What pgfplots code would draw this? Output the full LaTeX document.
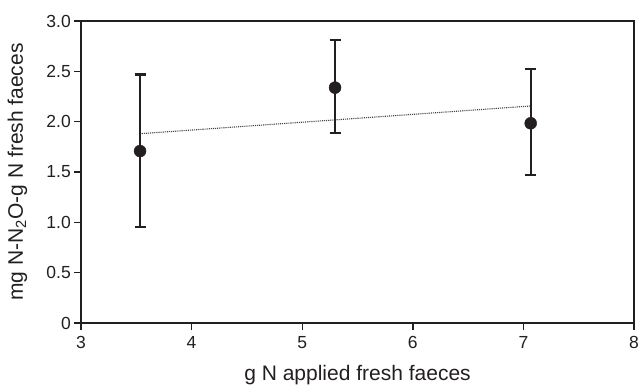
\documentclass[border=0pt]{standalone}
\usepackage{pgfplots}
\pgfplotsset{compat=1.18}
\usepackage{fontspec}
\setmainfont{Liberation Sans}
\definecolor{ink}{RGB}{35,31,32}
\begin{document}
\begin{tikzpicture}
\begin{axis}[
  scale only axis, width=553pt, height=302pt,
  at={(0pt,0pt)}, anchor=south west,
  xmin=3, xmax=8, ymin=0, ymax=3,
  xtick={3,4,5,6,7,8},
  ytick={0,0.5,1,1.5,2,2.5,3},
  yticklabels={0,0.5,1.0,1.5,2.0,2.5,3.0},
  axis line style={line width=1.8pt, ink},
  tick style={line width=1.4pt, ink},
  tick align=outside, tickpos=left, major tick length=7pt,
  /pgf/number format/assume math mode=true,
  tick label style={font=\fontsize{17.5}{20}\selectfont, text=ink, inner sep=2pt},
  xticklabel style={yshift=-4pt},
  yticklabel style={xshift=-1pt},
  xlabel={g N applied fresh faeces},
  ylabel={mg N-N\textsubscript{2}O-g N fresh faeces},
  xlabel style={font=\fontsize{21}{24}\selectfont, text=ink, at={([yshift=-57pt]axis description cs:0.5,0)}, anchor=base},
  ylabel style={font=\fontsize{21}{24}\selectfont, text=ink, at={([xshift=-58pt]axis description cs:0,0.5)}, anchor=base, rotate=0},
]
\addplot[densely dotted, line width=1.1pt, ink!85] coordinates {(3.53,1.88) (7.07,2.156)};
\addplot[only marks, mark=*, mark size=6pt, ink, mark options={fill=ink, draw=ink},
  error bars/.cd, y dir=both, y explicit,
  error bar style={line width=2.3pt, ink},
  error mark options={rotate=90, mark size=5.5pt, line width=2.3pt, ink}]
  coordinates {
   (3.534,1.708) += (0,0.760) -= (0,0.756)
   (5.297,2.338) += (0,0.475) -= (0,0.450)
   (7.066,1.984) += (0,0.540) -= (0,0.514)
  };
\end{axis}
\pgfresetboundingbox
\useasboundingbox (-81pt,-62pt) rectangle (558pt,323pt);
\end{tikzpicture}
\end{document}
